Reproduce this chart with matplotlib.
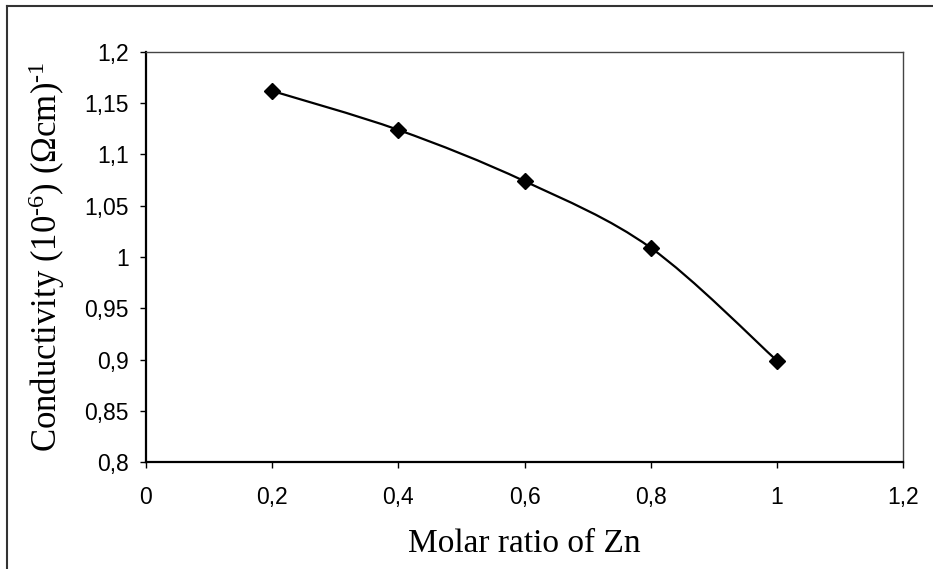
import matplotlib
matplotlib.use("Agg")
import matplotlib.pyplot as plt
import numpy as np
from matplotlib.path import Path
from matplotlib.patches import PathPatch
from matplotlib.lines import Line2D
from matplotlib.ticker import FuncFormatter

# donnees
molar_ratio = [0.2, 0.4, 0.6, 0.8, 1.0]
conductivity = [1.162, 1.124, 1.074, 1.009, 0.899]

x_ticks = [0, 0.2, 0.4, 0.6, 0.8, 1.0, 1.2]
y_ticks = [0.8, 0.85, 0.9, 0.95, 1.0, 1.05, 1.1, 1.15, 1.2]

plt.rcParams['mathtext.fontset'] = 'custom'
plt.rcParams['mathtext.rm'] = 'Liberation Serif'
plt.rcParams['mathtext.it'] = 'Liberation Serif'


def smooth_path(xs, ys):
    # courbe lissee facon Excel (bezier, type catmull-rom)
    pts = np.column_stack([xs, ys])
    p = np.vstack([pts[0], pts, pts[-1]])
    verts = [pts[0]]
    codes = [Path.MOVETO]
    for i in range(1, len(p) - 2):
        c1 = p[i] + (p[i + 1] - p[i - 1]) / 6.0
        c2 = p[i + 1] - (p[i + 2] - p[i]) / 6.0
        verts += [c1, c2, p[i + 1]]
        codes += [Path.CURVE4] * 3
    return Path(verts, codes)


def comma(v, pos):
    s = "{:g}".format(round(v, 2))
    return s.replace(".", ",")


fig = plt.figure(figsize=(9.33, 5.69), dpi=100)
ax = fig.add_axes([146 / 933, 1 - 462 / 569, 757 / 933, 410 / 569])

ax.add_patch(PathPatch(smooth_path(molar_ratio, conductivity), fill=False,
                       edgecolor="black", lw=1.6, zorder=2))
ax.plot(molar_ratio, conductivity, ls="none", marker="D", ms=8.5,
        color="black", zorder=3, clip_on=False)

ax.set_xlim(0, 1.2)
ax.set_ylim(0.8, 1.2)
ax.set_xticks(x_ticks)
ax.set_yticks(y_ticks)
ax.xaxis.set_major_formatter(FuncFormatter(comma))
ax.yaxis.set_major_formatter(FuncFormatter(comma))
ax.tick_params(direction="out", length=4.5, width=1, color="black",
               labelsize=16.5)
ax.tick_params(axis="y", pad=8)
ax.tick_params(axis="x", pad=13)
for lab in ax.get_xticklabels() + ax.get_yticklabels():
    lab.set_fontfamily("Liberation Sans")

for s in ["left", "bottom"]:
    ax.spines[s].set_linewidth(1.6)
    ax.spines[s].set_color("black")
for s in ["top", "right"]:
    ax.spines[s].set_linewidth(1.0)
    ax.spines[s].set_color("#444444")

ax.set_xlabel("Molar ratio of Zn", fontfamily="Liberation Serif", fontsize=24,
              labelpad=14)
ax.set_ylabel(r"Conductivity (10$^{\text{-6}}$) (Ωcm)$^{\text{-1}}$",
              fontfamily="Liberation Serif", fontsize=25, labelpad=12)

# cadre de la figure (haut et gauche seulement, le reste est coupe)
fig.add_artist(Line2D([7 / 933, 1], [1 - 6 / 569, 1 - 6 / 569],
                      transform=fig.transFigure, color="#333333", lw=1.5))
fig.add_artist(Line2D([7 / 933, 7 / 933], [0, 1 - 6 / 569],
                      transform=fig.transFigure, color="#333333", lw=1.5))

fig.savefig("out.png", dpi=100)
